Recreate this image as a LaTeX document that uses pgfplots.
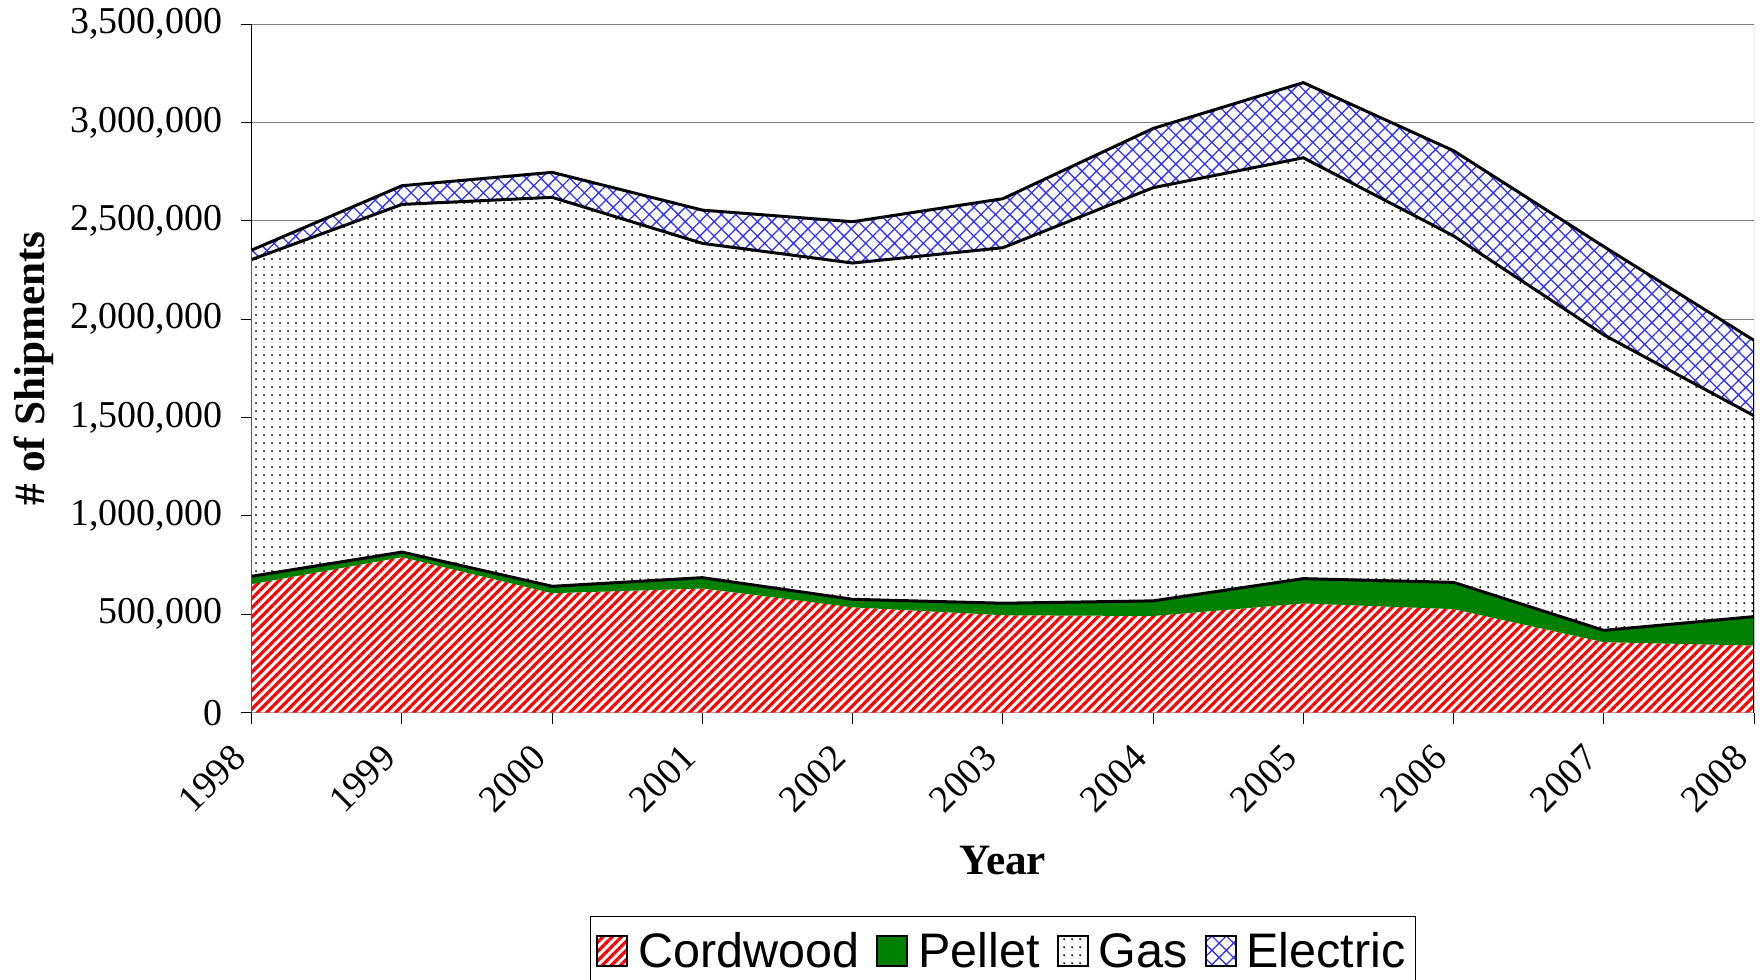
\documentclass[border=0pt]{standalone}
\usepackage{fontspec}
\setmainfont{Liberation Serif}
\newfontfamily\arial{Liberation Sans}
\usepackage{pgfplots}
\pgfplotsset{compat=1.18}
\usepackage{pgfplotstable}
\usepgfplotslibrary{fillbetween}
\usetikzlibrary{patterns.meta}
\definecolor{xlgreen}{RGB}{0,128,0}
\definecolor{xlblue}{RGB}{50,50,255}
\definecolor{xlred}{RGB}{255,0,0}
\definecolor{gridgray}{RGB}{128,128,128}

% cumulative tops of the stacked areas
\pgfplotstableread{
year zero cord pel gas elec
1998 0 653000 693000 2303000 2351000
1999 0 790000 816000 2583000 2678000
2000 0 607000 642000 2619000 2746000
2001 0 631000 686000 2385000 2554000
2002 0 535000 576000 2285000 2495000
2003 0 495000 556000 2363000 2612000
2004 0 491000 568000 2668000 2969000
2005 0 555000 681000 2820000 3202000
2006 0 526000 662000 2423000 2856000
2007 0 358000 418000 1920000 2369000
2008 0 341000 488000 1509000 1892000
}\data

\tikzset{
  cordpat/.style={pattern={Lines[angle=45,distance=0.65mm,line width=0.32mm]}, pattern color=xlred},
  gaspat/.style={pattern={Dots[distance=0.8mm,radius=0.12mm]}, pattern color=black!85},
  elecpat/.style={pattern={Hatch[angle=45,distance=1.02mm,line width=0.13mm]}, pattern color=xlblue},
}

\begin{document}
\begin{tikzpicture}
\begin{axis}[name=ax,
  scale only axis, width=150.2mm, height=68.85mm,
  xmin=1998, xmax=2008, ymin=0, ymax=3500000,
  axis x line*=bottom, axis y line*=left,
  axis line style={black, line width=0.15mm},
  xtick={1998,1999,2000,2001,2002,2003,2004,2005,2006,2007,2008},
  xticklabels={1998,1999,2000,2001,2002,2003,2004,2005,2006,2007,2008},
  ytick={0,500000,1000000,1500000,2000000,2500000,3000000,3500000},
  yticklabels={0,{500,000},{1,000,000},{1,500,000},{2,000,000},{2,500,000},{3,000,000},{3,500,000}},
  scaled y ticks=false,
  tick label style={font=\fontsize{10.8}{12}\selectfont},
  xticklabel style={xshift=-0.9mm, yshift=-2.4mm, rotate=45, anchor=east, inner sep=0.5mm},
  yticklabel style={xshift=-0.6mm},
  tick align=outside, major tick length=1.1mm,
  tick style={black, line width=0.1mm},
  ymajorgrids, grid style={gridgray, line width=0.1mm},
  xlabel={Year}, ylabel={\# of Shipments},
  label style={font=\fontsize{12.3}{14}\selectfont\bfseries},
  xlabel style={at={(axis description cs:0.5,-0.2142)}, anchor=center},
  ylabel style={at={(axis description cs:-0.1449,0.5)}, anchor=center},
  legend image code/.code={\draw[#1, draw=black, line width=0.2mm] (0mm,-1.3mm) rectangle (3.0mm,1.7mm);},
  legend style={at={(0.5,-0.2956)}, anchor=north, legend columns=4,
    font=\arial\fontsize{13.8}{15}\selectfont, draw=black, line width=0.1mm,
    inner xsep=0.6mm, inner ysep=1.2mm,
    nodes={inner sep=0.4mm},
    /tikz/every odd column/.append style={column sep=0.6mm},
    /tikz/every even column/.append style={column sep=1.3mm}},
]
\draw[gridgray, line width=0.1mm] (rel axis cs:1,0) -- (rel axis cs:1,1);
\addplot[name path=zero, draw=none, forget plot] table[x=year,y=zero]{\data};
\addplot[name path=cord, draw=none, forget plot] table[x=year,y=cord]{\data};
\addplot[name path=pel, draw=none, forget plot] table[x=year,y=pel]{\data};
\addplot[name path=gas, draw=none, forget plot] table[x=year,y=gas]{\data};
\addplot[name path=elec, draw=none, forget plot] table[x=year,y=elec]{\data};
\addplot[fill=white, draw=none, forget plot] fill between[of=zero and elec];
\addplot[cordpat, draw=none, forget plot] fill between[of=zero and cord];
\addplot[fill=xlgreen, draw=none, forget plot] fill between[of=cord and pel];
\addplot[gaspat, draw=none, forget plot] fill between[of=pel and gas];
\addplot[elecpat, draw=none, forget plot] fill between[of=gas and elec];
\addplot[black, line width=0.3mm, forget plot] table[x=year,y=pel]{\data};
\addplot[black, line width=0.3mm, forget plot] table[x=year,y=gas]{\data};
\addplot[black, line width=0.3mm, forget plot] table[x=year,y=elec]{\data};
\addplot[black, line width=0.3mm, forget plot] coordinates {(2008,0) (2008,1892000)};
\addlegendimage{cordpat}
\addlegendentry{Cordwood}
\addlegendimage{fill=xlgreen}
\addlegendentry{Pellet}
\addlegendimage{gaspat}
\addlegendentry{Gas}
\addlegendimage{elecpat}
\addlegendentry{Electric}
\end{axis}
\pgfresetboundingbox
\path[use as bounding box] ([xshift=-25.17mm,yshift=-26.65mm]ax.south west) rectangle ([xshift=0.8mm,yshift=2.4mm]ax.north east);
\end{tikzpicture}
\end{document}
